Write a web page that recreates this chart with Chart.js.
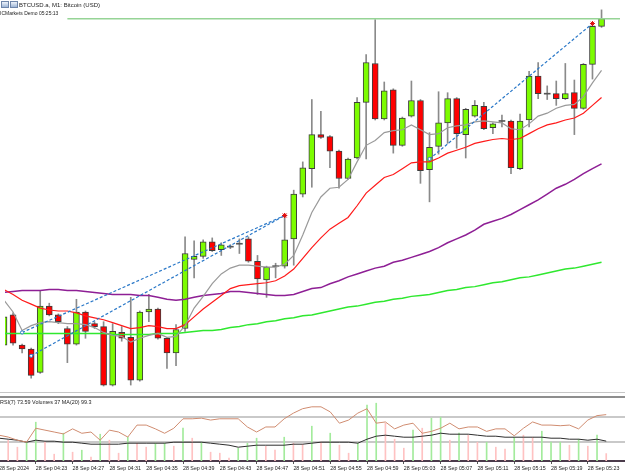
<!DOCTYPE html>
<html>
<head>
<meta charset="utf-8">
<script src="https://cdn.jsdelivr.net/npm/chart.js@4.4.1/dist/chart.umd.min.js"></script>
<style>
    body { margin: 0; background: #fff; }
    #wrap { position: relative; width: 625px; height: 476px; overflow: hidden; background: #fff;
            font-family: "Liberation Sans", Arial, sans-serif; color: #1c1c1c; }
    #wrap canvas { position: absolute; left: 0; }
    #mainCanvas { top: 0; }
    #subCanvas { top: 398px; }
    .sep { position: absolute; left: 0; width: 625px; }
    .txt { position: absolute; white-space: nowrap; line-height: 1; font-size: 10px; transform-origin: 0 0; }
    .icon { position: absolute; top: 1px; width: 6px; height: 5px; border: 1px solid #6f86aa;
            background: linear-gradient(#eef3fa, #9fb6d6); }
</style>
</head>
<body>
<div id="wrap">
    <canvas id="mainCanvas" width="625" height="392"></canvas>
    <div class="sep" style="top:392px;height:1px;background:#c6c6c6"></div>
    <div class="sep" style="top:396px;height:2px;background:#8e8e8e"></div>
    <canvas id="subCanvas" width="625" height="78"></canvas>

    <div class="icon" style="left:1px"></div>
    <div class="icon" style="left:10px"></div>
    <div class="txt" style="left:19px;top:2px;transform:scale(0.6)">BTCUSD.a, M1: Bitcoin (USD)</div>
    <div class="txt" style="left:0;top:11px;transform:scale(0.5)">ICMarkets Demo 05:25:13</div>
    <div class="txt" style="left:0;top:400px;transform:scale(0.54)">RSI(7) 73.59 Volumes 37 MA(20) 99.3</div>
</div>

<script>
// --- ДАННЫЕ ---
// Свечи M1 с 04:19 до 05:25. Ценовой шкалы на картинке нет, поэтому уровни в условных единицах.
const candleOpen  = [51,82,51,47,23,91,82,68,52,85,73,70,10,64,59,15,85,88,58,43,68,139,142,157,149,152,155,160,137,118,132,132,160,206,232,267,265,250,222,243,300,340,283,313,256,286,302,231,255,279,304,267,286,296,274,281,281,232,282,327,309,309,304,310,294,339,378];
const candleHigh  = [82,84,52,48,107,94,83,70,98,86,75,75,73,70,100,86,103,89,59,72,162,158,159,161,156,154,160,162,143,132,135,184,210,239,303,291,266,251,243,305,349,385,321,314,285,322,303,269,311,310,305,294,302,300,279,287,282,288,332,341,317,322,340,323,340,379,395];
const candleLow   = [50,51,43,17,22,81,73,33,51,58,68,9,9,55,10,14,75,57,27,30,65,120,140,147,143,150,145,136,103,100,120,130,133,203,213,263,233,212,221,242,242,282,282,248,255,285,217,198,247,258,253,243,285,272,268,275,227,231,275,304,303,297,303,267,293,324,377];
const candleClose = [80,53,47,20,91,82,75,52,85,65,70,10,65,58,15,85,88,58,43,67,145,142,157,148,154,152,155,137,119,131,132,159,206,233,267,264,250,222,242,300,341,283,312,256,284,302,230,254,279,304,268,293,297,273,278,281,233,281,327,309,309,304,309,294,339,378,386];

// Скользящие средние
const maGray   = [97,85,66,71,74,75,74,73,73,72,69,64,61,60,54,58,61,63,59,60,71,89,101,114,124,130,133,133,132,131,131,134,143,164,187,203,212,213,221,239,256,261,269,271,272,277,272,267,268,274,276,277,280,281,280,279,273,272,278,286,289,294,297,298,306,320,333];
const maRed    = [108,103,97,93,89,87,86,86,84,81,79,77,74,71,68,69,71,70,68,68,72,80,88,95,102,109,112,113,114,115,117,122,129,140,151,161,170,176,182,194,207,215,223,226,232,238,239,239,243,248,251,254,258,260,262,263,262,263,268,273,277,279,282,284,289,297,305];
const maPurple = [105,106,107,107,107,108,108,107,107,106,105,104,103,103,103,102,102,100,98,97,98,100,102,103,104,106,106,105,104,103,102,102,103,106,109,110,114,117,121,124,127,130,132,136,138,141,144,147,151,156,160,164,169,175,178,181,185,190,195,200,206,212,216,221,227,232,237];
const maGreen  = [63,63,63,63,63,63,63,63,63,63,63,63,62,62,62,62,62,63,63,63,64,65,66,66,67,69,70,72,73,75,76,78,79,81,82,84,86,88,90,91,93,95,96,98,99,101,102,103,105,107,108,110,111,113,115,116,118,120,121,123,125,127,129,130,132,134,136];

// Сделки из истории: вход (индекс свечи, уровень) -> выход
const tradeOpenIdx    = [2, 3, 47];
const tradeOpenLevel  = [64, 40, 242];
const tradeCloseIdx   = [31, 31, 65];
const tradeCloseLevel = [184, 184, 381];

// Горизонтальная линия цены вверху
const bidLevel = 386;
const bidLineFrom = 7;

// Подокно: RSI(7), объёмы и MA(20) объёмов
const rsiValues = [41,38,33,30,52,49,46,43,51,44,46,33,49,46,38,57,57,51,44,52,67,67,68,65,67,67,67,54,46,54,54,67,76,83,86,86,78,60,65,76,83,60,62,51,57,60,44,47,52,60,51,54,54,47,51,51,40,52,62,57,57,56,57,51,65,72,73.59];
const rsiLevels = [30, 70];
const volumes   = [90,104,69,94,194,94,34,139,44,54,19,134,104,39,119,89,69,89,89,74,164,114,94,44,39,15,64,89,114,74,54,119,89,84,174,95,139,79,39,89,279,289,189,109,64,154,164,214,219,104,139,129,94,94,69,59,119,129,119,149,94,94,79,109,74,129,37];
const volumeUp  = [0,0,0,1,1,0,0,1,0,1,0,1,0,0,1,0,0,1,1,0,1,0,1,0,0,0,1,1,1,0,0,1,0,0,1,0,1,0,0,1,1,1,0,0,0,1,0,1,1,0,1,0,0,1,0,0,1,0,0,1,1,1,0,1,0,1,0];
const volumeMa  = [114,109,104,94,104,99,99,94,94,89,84,84,84,84,89,89,89,89,89,94,94,94,94,89,84,79,69,74,79,79,79,79,84,84,89,94,94,94,94,89,109,124,129,124,119,119,124,129,139,134,134,134,129,124,124,119,119,119,119,119,114,114,109,109,104,109,99.3];

// Подписи времени, каждые 4 свечи
const timeLabels = ['28 Sep 2024','28 Sep 04:23','28 Sep 04:27','28 Sep 04:31','28 Sep 04:35','28 Sep 04:39','28 Sep 04:43','28 Sep 04:47','28 Sep 04:51','28 Sep 04:55','28 Sep 04:59','28 Sep 05:03','28 Sep 05:07','28 Sep 05:11','28 Sep 05:15','28 Sep 05:19','28 Sep 05:23'];
const labelStep = 4;

// --- НАСТРОЙКИ ---
const X_MIN = 0.11;   // первая свеча наполовину за левым краем
const X_MAX = 68.04;
const UP_COLOR = '#7cfc00';
const DOWN_COLOR = '#ff0000';
const FONT = '"Liberation Sans", Arial, sans-serif';

const idx = candleOpen.map((_, i) => i);
const isDoji = i => candleOpen[i] === candleClose[i];
const series = arr => arr.map((v, i) => ({ x: i, y: v }));

function maLine(values, color, width, order) {
    return {
        type: 'line',
        data: series(values),
        borderColor: color,
        borderWidth: width,
        pointRadius: 0,
        tension: 0,
        order: order
    };
}

const tradeDatasets = tradeOpenIdx.map((from, k) => ({
    type: 'line',
    data: [{ x: from, y: tradeOpenLevel[k] }, { x: tradeCloseIdx[k], y: tradeCloseLevel[k] }],
    borderColor: '#2a78c8',
    borderWidth: 1.2,
    borderDash: [3, 2],
    pointStyle: ['circle', 'star'],
    pointRadius: [1.6, 2.5],
    pointBorderColor: ['#2a78c8', '#e01010'],
    pointBackgroundColor: ['#ffffff', '#e01010'],
    pointBorderWidth: 1,
    order: 1
}));

new Chart(document.getElementById('mainCanvas'), {
    type: 'bar',
    data: {
        datasets: [
            {
                // тени свечей
                type: 'bar',
                data: idx.map(i => ({ x: i, y: [candleLow[i], candleHigh[i]] })),
                backgroundColor: '#8a8a8a',
                barThickness: 1,
                grouped: false,
                order: 10
            },
            {
                // тела свечей
                type: 'bar',
                data: idx.map(i => ({
                    x: i,
                    y: isDoji(i) ? [candleOpen[i] - 0.5, candleOpen[i] + 0.5] : [candleOpen[i], candleClose[i]]
                })),
                backgroundColor: idx.map(i => isDoji(i) ? '#555555' : (candleClose[i] > candleOpen[i] ? UP_COLOR : DOWN_COLOR)),
                borderColor: idx.map(i => isDoji(i) ? '#555555' : '#3d3d3d'),
                borderWidth: idx.map(i => isDoji(i) ? 0 : 1),
                borderSkipped: false,
                barThickness: 6,
                grouped: false,
                order: 9
            },
            maLine(maGreen, '#2fe82f', 1.5, 6),
            maLine(maPurple, '#8e1f95', 1.5, 5),
            maLine(maRed, '#ff1a1a', 1.2, 4),
            maLine(maGray, '#9a9a9a', 1.2, 3),
            ...tradeDatasets,
            {
                type: 'line',
                data: [{ x: bidLineFrom, y: bidLevel }, { x: X_MAX, y: bidLevel }],
                borderColor: 'rgb(150,212,150)',
                borderWidth: 1.5,
                pointRadius: 0,
                order: 2
            }
        ]
    },
    options: {
        responsive: false,
        animation: false,
        layout: { padding: 0 },
        plugins: { legend: { display: false }, tooltip: { enabled: false } },
        scales: {
            x: { type: 'linear', min: X_MIN, max: X_MAX, offset: false, display: false },
            y: { min: 8, max: 400, display: false }
        }
    }
});

new Chart(document.getElementById('subCanvas'), {
    type: 'bar',
    data: {
        datasets: [
            {
                type: 'bar',
                data: series(volumes),
                yAxisID: 'yv',
                backgroundColor: volumeUp.map(u => u ? '#a3eb9c' : '#ffc2c2'),
                barThickness: 1,
                grouped: false,
                order: 3
            },
            {
                type: 'line',
                data: series(volumeMa),
                yAxisID: 'yv',
                borderColor: '#2e2e2e',
                borderWidth: 1,
                pointRadius: 0,
                order: 2
            },
            {
                type: 'line',
                data: series(rsiValues),
                yAxisID: 'y',
                borderColor: 'rgb(208,140,112)',
                borderWidth: 1,
                pointRadius: 0,
                order: 1
            }
        ]
    },
    options: {
        responsive: false,
        animation: false,
        layout: { padding: 0 },
        plugins: { legend: { display: false }, tooltip: { enabled: false } },
        scales: {
            x: {
                type: 'linear',
                min: X_MIN,
                max: X_MAX,
                offset: false,
                position: 'bottom',
                afterBuildTicks: axis => { axis.ticks = timeLabels.map((_, k) => ({ value: k * labelStep })); },
                afterFit: axis => { axis.height = 15; axis.paddingLeft = 0; axis.paddingRight = 0; },
                ticks: {
                    callback: (value, k) => timeLabels[k],
                    autoSkip: false,
                    maxRotation: 0,
                    minRotation: 0,
                    align: 'start',
                    padding: 1.5,
                    color: '#222',
                    font: { family: FONT, size: 5.3 }
                },
                grid: { offset: false, drawOnChartArea: false, drawTicks: true, tickLength: 3, color: '#555' },
                border: { display: true, color: '#4b3b4b', width: 2 }
            },
            y: {
                min: 0,
                max: 100,
                position: 'left',
                afterBuildTicks: axis => { axis.ticks = rsiLevels.map(v => ({ value: v })); },
                afterFit: axis => { axis.width = 0; },
                ticks: { display: false },
                grid: { color: '#c9c9c9', lineWidth: 2, drawTicks: false },
                border: { display: false }
            },
            yv: { min: 0, max: 315, display: false }
        }
    }
});
</script>
</body>
</html>
